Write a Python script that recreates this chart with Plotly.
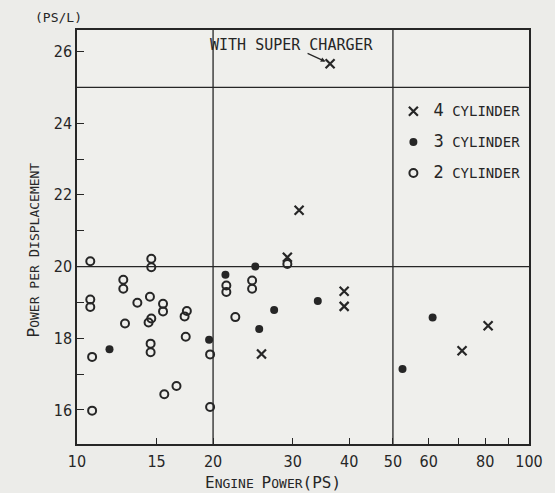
import math
import plotly.graph_objects as go

# ---- data ----
cyl4_x = [36.3, 31.0, 29.2, 39.0, 39.0, 25.6, 81.2, 71.1]
cyl4_y = [25.66, 21.57, 20.26, 19.31, 18.89, 17.56, 18.35, 17.65]

cyl3_x = [11.8, 19.6, 24.8, 21.3, 34.1, 27.3, 25.3, 61.2, 52.5]
cyl3_y = [17.69, 17.96, 20.0, 19.77, 19.04, 18.79, 18.26, 18.58, 17.14]

cyl2_x = [10.7, 14.6, 14.6, 10.7, 10.7, 12.66, 12.66, 13.6, 14.5, 15.5, 15.5,
          14.6, 14.4, 12.77, 17.5, 17.3, 17.4, 10.8, 14.55, 14.55, 19.7, 16.6,
          15.6, 10.8, 19.7, 29.2, 21.4, 21.4, 24.4, 24.4, 22.4]
cyl2_y = [20.15, 20.22, 19.98, 19.08, 18.87, 19.63, 19.38, 18.99, 19.16, 18.96, 18.75,
          18.55, 18.44, 18.41, 18.76, 18.61, 18.04, 17.48, 17.85, 17.61, 17.55, 16.67,
          16.44, 15.98, 16.08, 20.07, 19.47, 19.29, 19.61, 19.38, 18.59]

x_ticks = [10, 15, 20, 30, 40, 50, 60, 70, 80, 90, 100]
x_ticktext = ["10", "15", "20", "30", "40", "50", "60", "", "80", "", "100"]
y_ticks = [16, 17, 18, 19, 20, 21, 22, 23, 24, 25, 26]
y_ticktext = ["16", "", "18", "", "20", "", "22", "", "24", "", "26"]

x_dividers = [20, 50]
y_dividers = [20, 25]
y_lo, y_hi = 15.05, 26.6
supercharged = (36.3, 25.66)

INK = "#262626"
NUMFONT = "Liberation Sans Narrow, DejaVu Sans Condensed, Arial Narrow, sans-serif"
MONO = "DejaVu Sans Mono, Liberation Mono, monospace"

fig = go.Figure()

# divider lines
for xv in x_dividers:
    fig.add_trace(go.Scatter(x=[xv, xv], y=[y_lo, y_hi], mode="lines",
                             line=dict(color=INK, width=1.3), showlegend=False,
                             hoverinfo="skip"))
for yv in y_dividers:
    fig.add_trace(go.Scatter(x=[10, 100], y=[yv, yv], mode="lines",
                             line=dict(color=INK, width=1.3), showlegend=False,
                             hoverinfo="skip"))

def lbl(n):
    return (f"<span style='font-family:{NUMFONT};font-size:18px'>{n}</span>"
            f"<span style='font-family:{MONO};font-size:14px'> CYLINDER</span>")

fig.add_trace(go.Scatter(x=cyl4_x, y=cyl4_y, mode="markers", name=lbl(4), legendgroup="a",
                         marker=dict(symbol="x-thin", size=9, color=INK,
                                     line=dict(width=2.2, color=INK))))
fig.add_trace(go.Scatter(x=cyl3_x, y=cyl3_y, mode="markers", name=lbl(3), legendgroup="b",
                         marker=dict(symbol="circle", size=8, color=INK)))
fig.add_trace(go.Scatter(x=cyl2_x, y=cyl2_y, mode="markers", name=lbl(2), legendgroup="c",
                         marker=dict(symbol="circle-open", size=8, color=INK,
                                     line=dict(width=2, color=INK))))

fig.update_xaxes(type="log", range=[1, 2], tickvals=x_ticks, ticktext=x_ticktext,
                 ticks="inside", ticklen=6, tickcolor=INK, showline=True, linecolor=INK,
                 linewidth=1.5, mirror=True, showgrid=False, zeroline=False,
                 ticklabelstandoff=2,
                 tickfont=dict(family=NUMFONT, size=16, color=INK))
fig.update_yaxes(range=[y_lo, y_hi], tickvals=y_ticks, ticktext=y_ticktext,
                 ticks="inside", ticklen=7, tickcolor=INK, showline=True, linecolor=INK,
                 linewidth=1.5, mirror=True, showgrid=False, zeroline=False,
                 tickfont=dict(family=NUMFONT, size=16, color=INK))

def sc(first, rest, big=16, small=13):
    return (f"<span style='font-size:{big}px'>{first}</span>"
            f"<span style='font-size:{small}px'>{rest}</span>")

ann = [
    dict(text="(PS/L)", xref="paper", yref="paper", x=-0.041, y=1.029, xanchor="center",
         yanchor="middle", showarrow=False, font=dict(family=MONO, size=13, color=INK)),
    dict(text=sc("P", "OWER PER ") + sc("D", "ISPLACEMENT", 14, 13), xref="paper", yref="paper",
         x=-0.096, y=0.469, xanchor="center", yanchor="middle", textangle=-90, showarrow=False,
         font=dict(family=MONO, size=13, color=INK)),
    dict(text=sc("E", "NGINE ") + sc("P", "OWER") + "<span style='font-size:16px'>(PS)</span>",
         xref="paper", yref="paper", x=0.434, y=-0.092, xanchor="center", yanchor="middle",
         showarrow=False, font=dict(family=MONO, size=13, color=INK)),
    dict(text="WITH SUPER CHARGER", xref="paper", yref="paper", x=0.476, y=0.964,
         xanchor="center", yanchor="middle",
         showarrow=False, font=dict(family=MONO, size=15, color=INK)),
    dict(text="", x=math.log10(supercharged[0]), y=supercharged[1], xref="x", yref="y",
         showarrow=True, arrowhead=2, arrowsize=0.8, arrowwidth=1.2, arrowcolor=INK,
         standoff=5, ax=-24, ay=-11),
]
fig.update_layout(
    width=555, height=493,
    margin=dict(l=77, r=20, t=30, b=49),
    paper_bgcolor="#ecece9", plot_bgcolor="#efefec",
    annotations=ann,
    legend=dict(x=0.70, y=0.84, xanchor="left", yanchor="top",
                bgcolor="rgba(0,0,0,0)", tracegroupgap=11,
                font=dict(family=MONO, size=13, color=INK)),
)

fig.write_html("out.html")
